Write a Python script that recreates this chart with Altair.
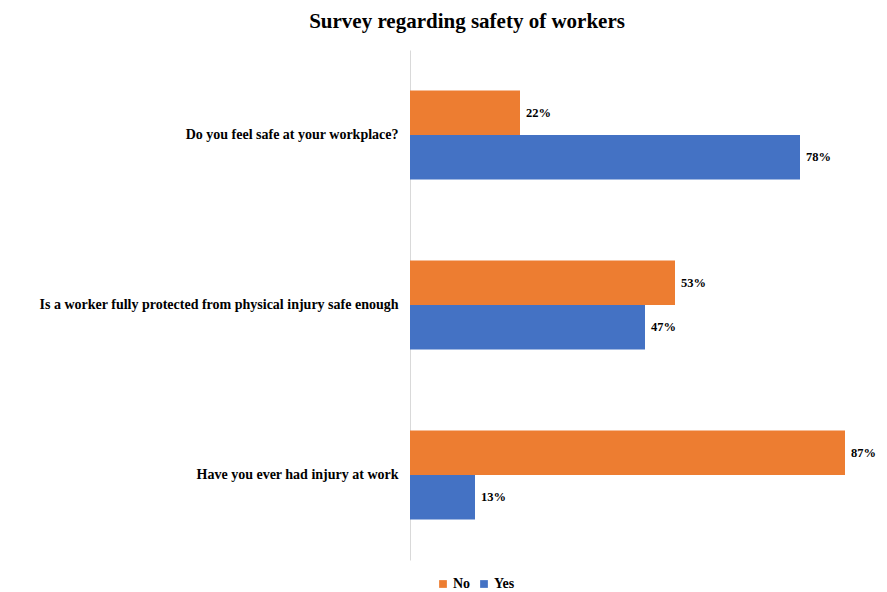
import altair as alt
import pandas as pd

questions = [
    "Do you feel safe at your workplace?",
    "Is a worker fully protected from physical injury safe enough",
    "Have you ever had injury at work",
]
no_vals = [22, 53, 87]
yes_vals = [78, 47, 13]
answers = ["No", "Yes"]
colors = ["#ED7D31", "#4472C4"]

rows = []
for q, n, y in zip(questions, no_vals, yes_vals):
    rows.append({"question": q, "answer": "No", "value": n, "label": f"{n}%"})
    rows.append({"question": q, "answer": "Yes", "value": y, "label": f"{y}%"})
df = pd.DataFrame(rows)

FONT = "Liberation Serif"

y_enc = alt.Y("question:N", sort=questions, title=None,
              scale=alt.Scale(paddingInner=0.476, paddingOuter=0.238),
              axis=alt.Axis(labelFont=FONT, labelFontWeight="bold", labelFontSize=14,
                            labelColor="#000000", ticks=False, domainColor="#d9d9d9",
                            labelPadding=12, labelLimit=400))
yoff = alt.YOffset("answer:N", sort=answers)
x_enc = alt.X("value:Q", scale=alt.Scale(domain=[0, 90.0], nice=False), axis=None)

bars = alt.Chart(df).mark_bar().encode(
    y=y_enc, yOffset=yoff, x=x_enc,
    color=alt.Color("answer:N", sort=answers,
                    scale=alt.Scale(domain=answers, range=colors),
                    legend=alt.Legend(title=None, orient="none", direction="horizontal",
                                      legendX=26, legendY=527, symbolType="square",
                                      symbolSize=60, labelFont=FONT, labelFontWeight="bold",
                                      labelFontSize=14, columnPadding=6, symbolOffset=0,
                                      labelOffset=3)),
)

text = alt.Chart(df).mark_text(align="left", baseline="middle", dx=6, font=FONT,
                               fontWeight="bold", fontSize=12.5, color="#000000").encode(
    y=alt.Y("question:N", sort=questions), yOffset=yoff, x=x_enc, text="label:N"
)

chart = (bars + text).properties(
    width=450, height=510,
    title=alt.Title("Survey regarding safety of workers", font=FONT, fontSize=21,
                    fontWeight="bold", color="#000000", anchor="middle", frame="group",
                    dx=-168, offset=18),
    autosize=alt.AutoSizeParams(type="none"),
    padding={"left": 402, "top": 42, "right": 19, "bottom": 40},
).configure_view(stroke=None).configure_axis(
    labelFont=FONT
).configure_text(font=FONT).configure_legend(labelFont=FONT)

chart.save("out.html", embed_options={"renderer": "svg", "actions": False})
